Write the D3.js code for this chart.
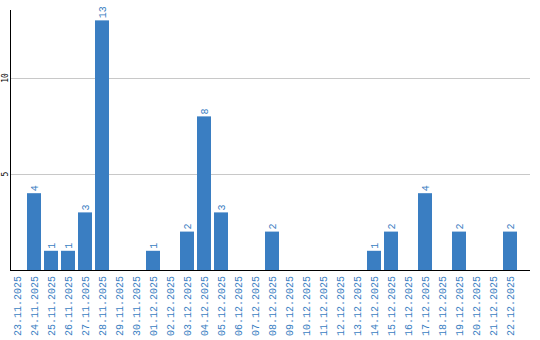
<!DOCTYPE html>
<html><head><meta charset="utf-8">
<script src="https://cdn.jsdelivr.net/npm/d3@7"></script>
<style>body{margin:0;background:#fff}svg{display:block}</style>
</head><body>
<svg id="c" width="540" height="340"></svg>
<script>
const dates = ["23.11.2025","24.11.2025","25.11.2025","26.11.2025","27.11.2025","28.11.2025","29.11.2025","30.11.2025","01.12.2025","02.12.2025","03.12.2025","04.12.2025","05.12.2025","06.12.2025","07.12.2025","08.12.2025","09.12.2025","10.12.2025","11.12.2025","12.12.2025","13.12.2025","14.12.2025","15.12.2025","16.12.2025","17.12.2025","18.12.2025","19.12.2025","20.12.2025","21.12.2025","22.12.2025"];
const counts = [0,4,1,1,3,13,0,0,1,0,2,8,3,0,0,2,0,0,0,0,0,1,2,0,4,0,2,0,0,2];
const yTicks = [5,10];

const svg = d3.select("#c");
const blue = "#3a7ec2";
const font = "Liberation Mono, monospace";
const x = d3.scaleBand().domain(dates).range([10, 517]).paddingInner(3/17).paddingOuter(0);
const y = d3.scaleLinear().domain([0, 13.54]).range([270, 10]);

// gridlines
svg.append("g").selectAll("line").data(yTicks).join("line")
  .attr("x1", 10).attr("x2", 530)
  .attr("y1", d => Math.round(y(d)) + 0.5).attr("y2", d => Math.round(y(d)) + 0.5)
  .attr("stroke", "#c8c8c8").attr("stroke-width", 1);

// y tick labels
svg.append("g").selectAll("text").data(yTicks).join("text")
  .attr("transform", d => `translate(7.5,${y(d)}) rotate(-90)`)
  .attr("text-anchor", "middle")
  .attr("font-family", "DejaVu Sans Mono, monospace").attr("font-size", 8)
  .attr("fill", "#000").text(d => d);

// bars
svg.append("g").selectAll("rect").data(counts.map((v,i)=>({d:dates[i],v}))).join("rect")
  .filter(d => d.v > 0)
  .attr("x", d => x(d.d)).attr("width", x.bandwidth())
  .attr("y", d => y(d.v)).attr("height", d => y(0) - y(d.v))
  .attr("fill", blue);

// value labels
svg.append("g").selectAll("text").data(counts.map((v,i)=>({d:dates[i],v}))).join("text")
  .filter(d => d.v > 0)
  .attr("transform", d => `translate(${x(d.d) + x.bandwidth()/2 + 3.5},${y(d.v) - 2}) rotate(-90)`)
  .attr("text-anchor", "start")
  .attr("font-family", font).attr("font-size", 10)
  .attr("fill", blue).text(d => d.v);

// x labels
svg.append("g").selectAll("text").data(dates).join("text")
  .attr("transform", d => `translate(${x(d) + x.bandwidth()/2 + 3.5},276) rotate(-90)`)
  .attr("text-anchor", "end")
  .attr("font-family", font).attr("font-size", 10)
  .attr("fill", blue).text(d => d);

// axes lines
svg.append("line").attr("x1", 10.5).attr("x2", 10.5).attr("y1", 10).attr("y2", 270.5)
  .attr("stroke", "#000");
svg.append("line").attr("x1", 10).attr("x2", 530).attr("y1", 270.5).attr("y2", 270.5)
  .attr("stroke", "#000");
</script>
</body></html>
